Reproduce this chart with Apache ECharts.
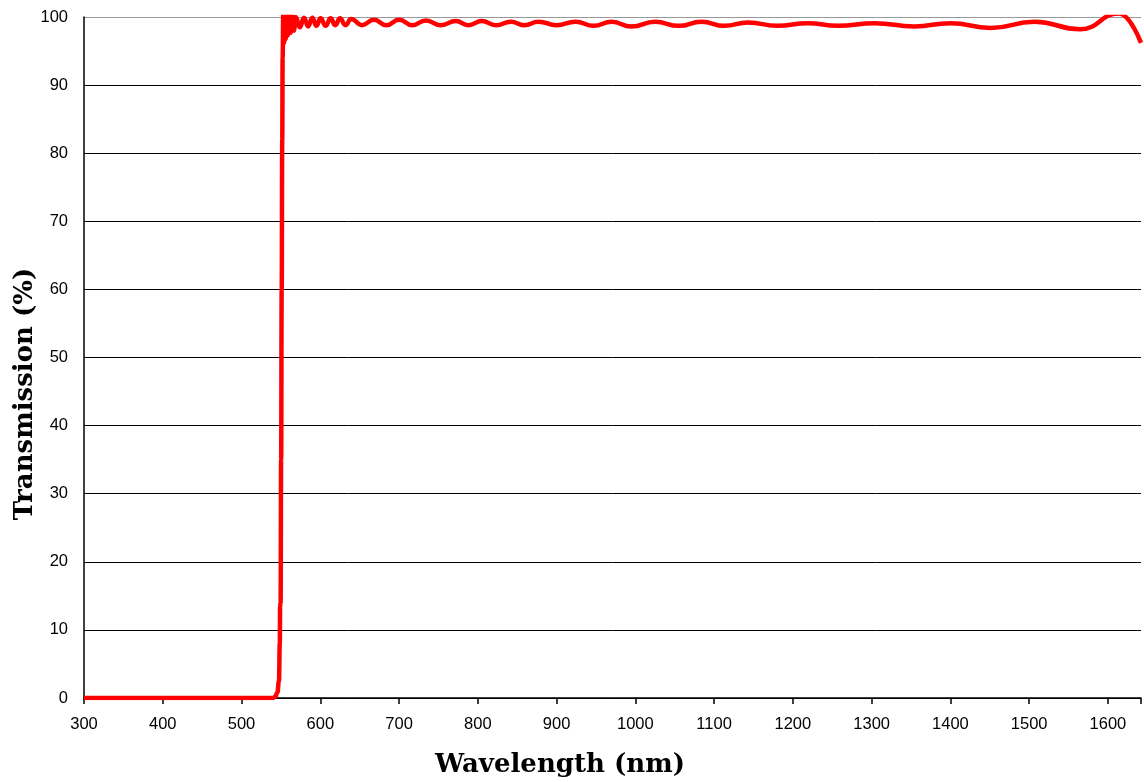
<!DOCTYPE html>
<html>
<head>
<meta charset="utf-8">
<script src="https://cdn.jsdelivr.net/npm/echarts@6/dist/echarts.min.js"></script>
<style>
html,body{margin:0;padding:0;background:#fff;}
#chart{width:1144px;height:782px;}
</style>
</head>
<body>
<div id="chart"></div>
<script>
// ---- data ----
const wavelength = [
  300, 450, 540, 543, 545.5, 547.5, 548.6, 549.0, 549.6, 550.3, 551.0, 551.7, 552.2,
  553.0, 553.9, 554.9, 556.0, 557.3, 558.8, 560.4, 562.3, 564.2, 566.5, 568.7,
  574, 579.3, 584.6, 589.9, 595, 600.4, 606.8, 613.1, 619, 625, 632, 639,
  653, 668, 684, 700, 717, 734, 753, 772, 788, 805, 823, 842, 859, 877,
  900, 924, 947, 970, 995, 1025, 1055, 1084, 1113, 1143, 1180, 1219, 1257,
  1304, 1354, 1400, 1451, 1507, 1565, 1614, 1642
];
const transmission = [
  0, 0, 0, 0.2, 0.8, 2.5, 8, 13.5, 14, 35, 60, 82, 94,
  100.4, 96.2, 100.4, 96.8, 100.4, 97.3, 100.3, 97.7, 100.2, 98.0, 100.0,
  98.5, 99.9, 98.6, 99.9, 98.7, 99.8, 98.7, 99.8, 98.8, 99.8, 98.8, 99.7,
  98.8, 99.6, 98.8, 99.6, 98.8, 99.5, 98.8, 99.4, 98.8, 99.4, 98.8, 99.3, 98.8, 99.3,
  98.8, 99.3, 98.7, 99.3, 98.6, 99.3, 98.7, 99.3, 98.7, 99.2, 98.7, 99.1, 98.7,
  99.1, 98.6, 99.1, 98.4, 99.3, 98.2, 100.5, 96.2
];
const xTickLabels = [300,400,500,600,700,800,900,1000,1100,1200,1300,1400,1500,1600];
const yTickLabels = [0,10,20,30,40,50,60,70,80,90,100];
const xTitle = 'Wavelength (nm)';
const yTitle = 'Transmission (%)';

const seriesData = wavelength.map((w, i) => [w, transmission[i]]);
const gridColors = yTickLabels.map(v => v === 100 ? '#999999' : '#000000');

const chart = echarts.init(document.getElementById('chart'), null, {renderer: 'canvas'});
chart.setOption({
  animation: false,
  backgroundColor: '#ffffff',
  grid: {left: 84, top: 17, right: 0, bottom: 84, containLabel: false},
  xAxis: {
    type: 'value', min: 300, max: 1642, interval: 100,
    axisLine: {show: true, onZero: false, lineStyle: {color: '#000', width: 1.5}},
    axisTick: {show: true, length: 6, lineStyle: {color: '#000', width: 1.5}},
    splitLine: {show: false},
    axisLabel: {
      margin: 18, color: '#000', fontSize: 16.5, fontFamily: 'Liberation Sans, Arial',
      formatter: v => xTickLabels.indexOf(v) >= 0 ? String(v) : ''
    }
  },
  yAxis: {
    type: 'value', min: 0, max: 100, interval: 10,
    axisLine: {show: true, lineStyle: {color: '#000', width: 1.5}},
    axisTick: {show: false},
    splitLine: {show: true, lineStyle: {color: gridColors, width: 1}},
    axisLabel: {
      margin: 16, color: '#000', fontSize: 16.5, fontFamily: 'Liberation Sans, Arial',
      formatter: v => yTickLabels.indexOf(v) >= 0 ? String(v) : ''
    }
  },
  graphic: [
    {type: 'text', x: 560, y: 765, style: {text: xTitle, font: 'bold 26px "DejaVu Serif"', fill: '#000', textAlign: 'center', textVerticalAlign: 'middle'}},
    {type: 'text', x: 25, y: 394, rotation: Math.PI / 2, style: {text: yTitle, font: 'bold 26px "DejaVu Serif"', fill: '#000', textAlign: 'center', textVerticalAlign: 'middle'}}
  ],
  series: [{
    type: 'line',
    data: seriesData,
    showSymbol: false,
    smooth: 0.5,
    smoothMonotone: 'x',
    clip: true,
    lineStyle: {color: '#ff0000', width: 4.5},
    itemStyle: {color: '#ff0000'}
  }]
});
</script>
</body>
</html>
